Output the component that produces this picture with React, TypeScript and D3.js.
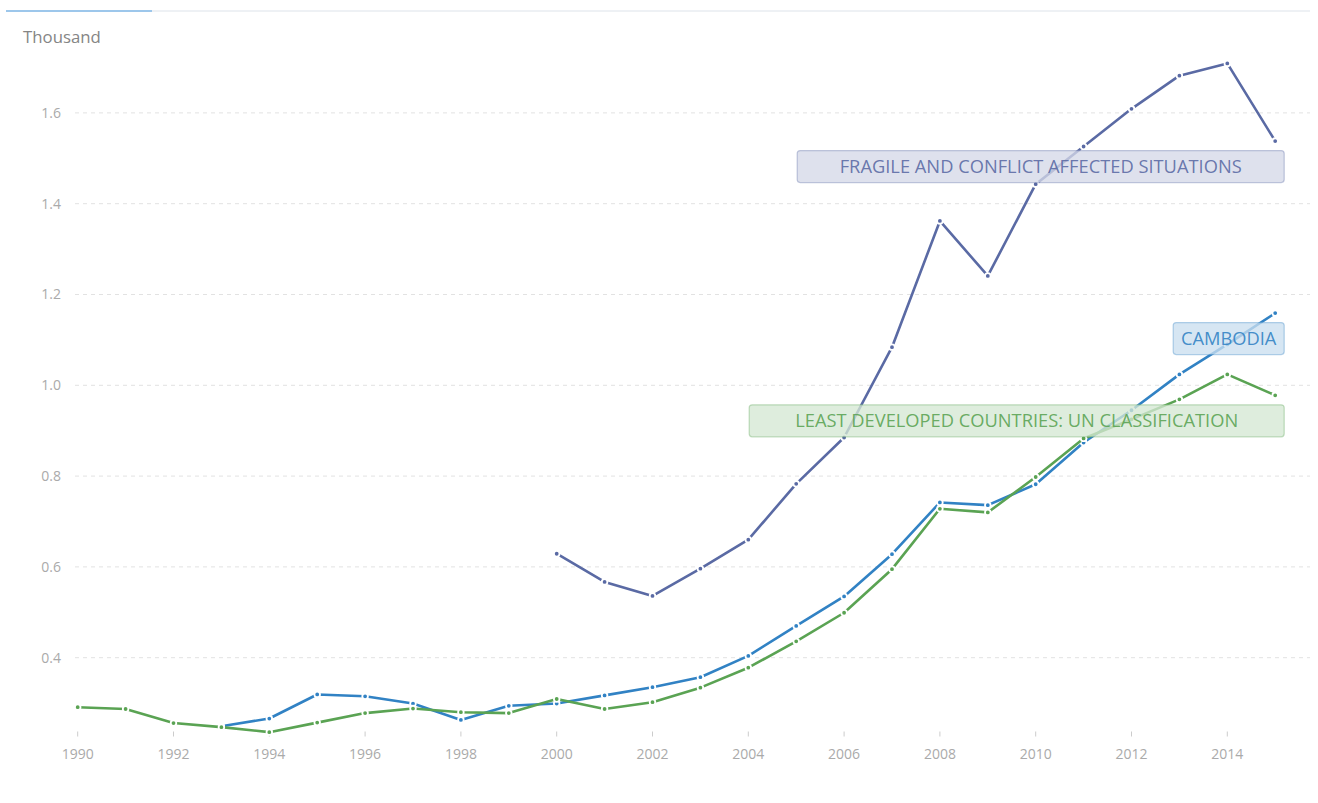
import React from 'react';
import * as d3 from 'd3';

// values in thousands
const years = d3.range(1990, 2016);

const fcsYears = d3.range(2000, 2016);
const fcsValues = [0.629, 0.567, 0.536, 0.596, 0.660, 0.783, 0.885, 1.084, 1.362, 1.241, 1.443, 1.526, 1.609, 1.682, 1.709, 1.538];

const khmYears = d3.range(1993, 2016);
const khmValues = [0.249, 0.266, 0.319, 0.315, 0.299, 0.263, 0.294, 0.299, 0.317, 0.335, 0.357, 0.404, 0.470, 0.535, 0.628, 0.742, 0.736, 0.782, 0.874, 0.945, 1.024, 1.090, 1.159];

const ldcYears = years;
const ldcValues = [0.291, 0.287, 0.256, 0.247, 0.236, 0.257, 0.278, 0.288, 0.280, 0.278, 0.309, 0.287, 0.302, 0.334, 0.378, 0.436, 0.499, 0.595, 0.728, 0.720, 0.798, 0.883, 0.925, 0.969, 1.024, 0.978];

const yTicks = [0.4, 0.6, 0.8, 1.0, 1.2, 1.4, 1.6];
const xTicks = d3.range(1990, 2015, 2);

const series = [
  { name: 'CAMBODIA', years: khmYears, values: khmValues, color: '#3182c4', boxW: 111 },
  { name: 'LEAST DEVELOPED COUNTRIES: UN CLASSIFICATION', years: ldcYears, values: ldcValues, color: '#5aa353', boxW: 535 },
  { name: 'FRAGILE AND CONFLICT AFFECTED SITUATIONS', years: fcsYears, values: fcsValues, color: '#5a6aa4', boxW: 487 },
];

const font = '"Open Sans", "Noto Sans", sans-serif';

export default function App() {
  const width = 1318;
  const height = 803;

  const x = d3.scaleLinear().domain([1990, 2015]).range([77.7, 1275.2]);
  const y = d3.scaleLinear().domain([0.4, 1.6]).range([657.7, 112.9]);

  const line = d3.line<[number, number]>()
    .x(d => x(d[0]))
    .y(d => y(d[1]));

  return (
    <svg width={width} height={height} style={{ position: 'absolute', left: 0, top: 0, background: '#fff' }}>
      {/* header rule */}
      <line x1={152} x2={1310} y1={11} y2={11} stroke="#dde3ea" strokeWidth={1} />
      <line x1={6} x2={152} y1={11} y2={11} stroke="#7cb5e4" strokeWidth={1.5} />

      <text x={23} y={43} fill="#858585" style={{ fontFamily: font, fontSize: 16.8 }}>Thousand</text>

      {/* grid + y labels */}
      {yTicks.map(t => (
        <g key={t}>
          <line x1={75} x2={1310} y1={y(t)} y2={y(t)} stroke="#e2e2e2" strokeDasharray="4,4" />
          <text x={61} y={y(t)} dy="0.35em" textAnchor="end" fill="#aaaaaa"
            style={{ fontFamily: font, fontSize: 14 }}>{t.toFixed(1)}</text>
        </g>
      ))}

      {/* x ticks */}
      {xTicks.map(t => (
        <g key={t}>
          <line x1={x(t)} x2={x(t)} y1={731.5} y2={736.5} stroke="#cccccc" />
          <text x={x(t)} y={759} textAnchor="middle" fill="#aaaaaa"
            style={{ fontFamily: font, fontSize: 14 }}>{t}</text>
        </g>
      ))}

      {/* lines */}
      {series.map(s => {
        const pts = s.years.map((yr, i) => [yr, s.values[i]] as [number, number]);
        return (
          <g key={s.name}>
            <path d={line(pts) || ''} fill="none" stroke={s.color} strokeWidth={2.6} strokeLinejoin="round" />
            {pts.map(p => (
              <circle key={p[0]} cx={x(p[0])} cy={y(p[1])} r={2.8} fill={s.color} stroke="#fff" strokeWidth={1.8} />
            ))}
          </g>
        );
      })}

      {/* series labels */}
      {series.map(s => {
        const lastY = y(s.values[s.values.length - 1]);
        const right = x(2015) + 9;
        const top = lastY + 9.5;
        const h = 32;
        return (
          <g key={s.name + '-label'}>
            <rect x={right - s.boxW} y={top} width={s.boxW} height={h} rx={3} fill="#fff" fillOpacity={0.72} />
            <rect x={right - s.boxW} y={top} width={s.boxW} height={h} rx={3}
              fill={s.color} fillOpacity={0.2} stroke={s.color} strokeOpacity={0.35} strokeWidth={1.2} />
            <text x={right - s.boxW / 2} y={top + h / 2} dy="0.36em" textAnchor="middle" fill={s.color} fillOpacity={0.9}
              style={{ fontFamily: font, fontSize: 18.3 }}>{s.name}</text>
          </g>
        );
      })}
    </svg>
  );
}
